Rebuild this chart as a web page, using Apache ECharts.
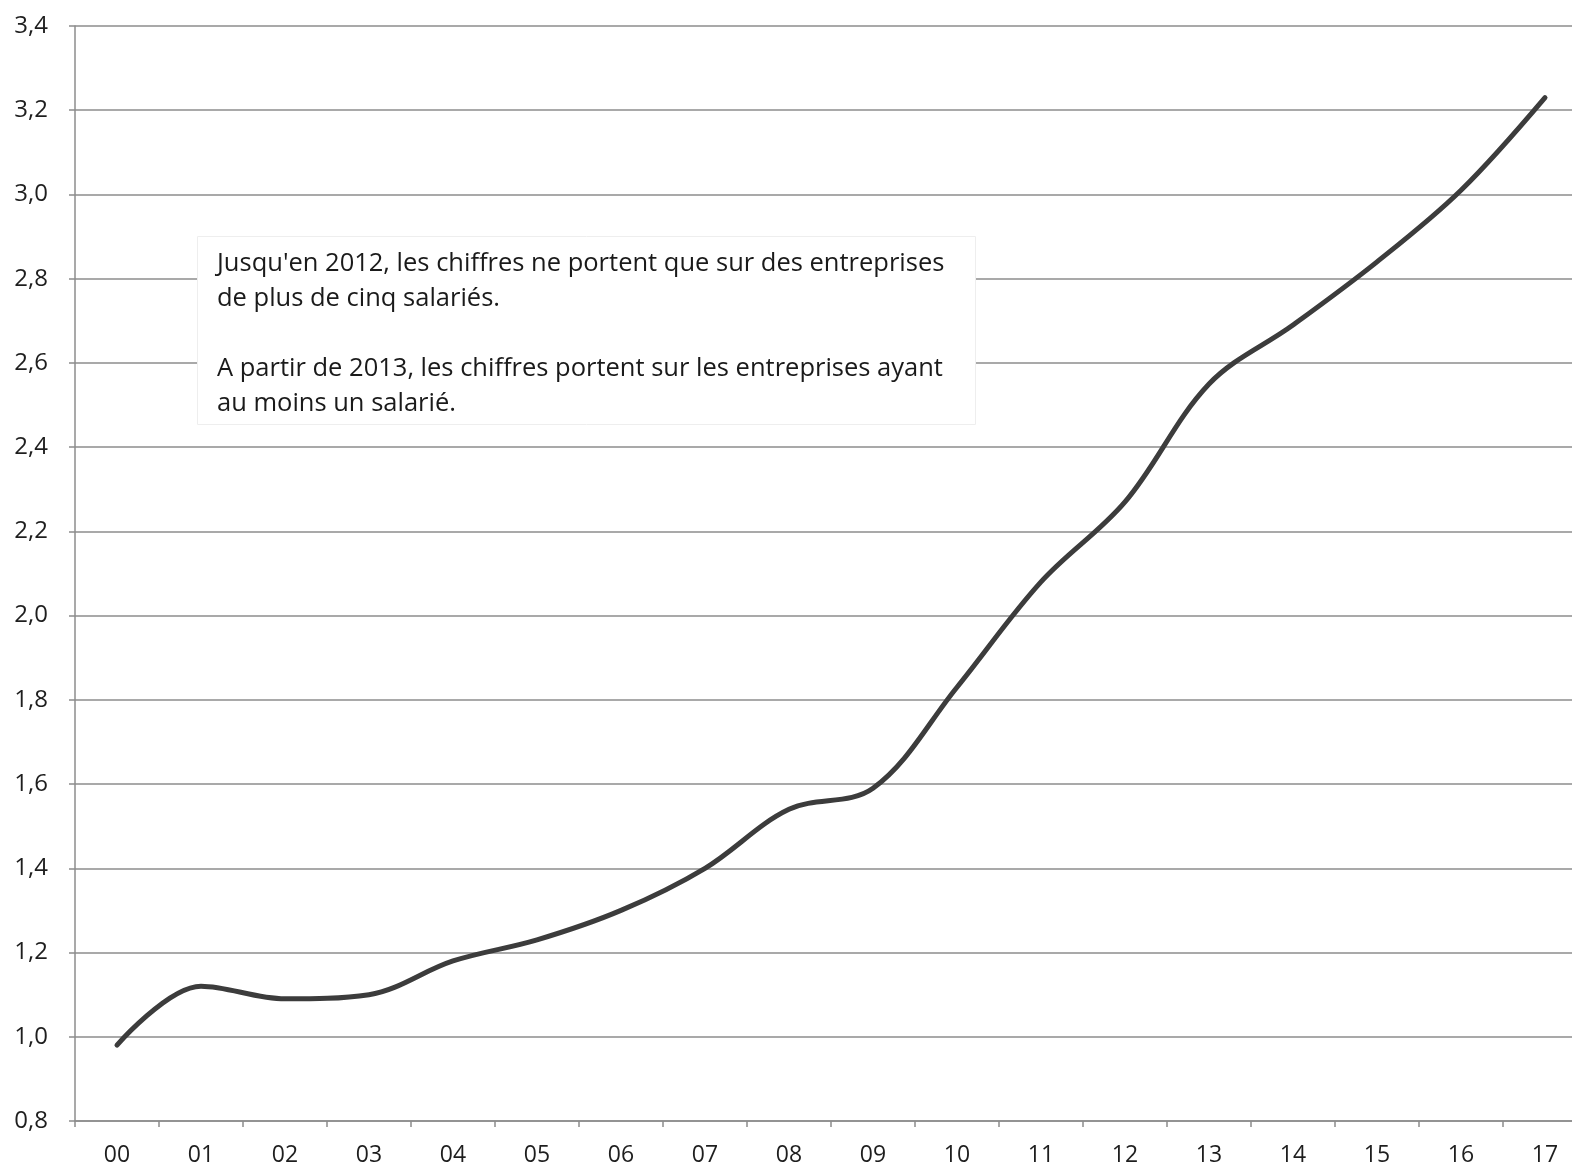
<!DOCTYPE html>
<html>
<head>
<meta charset="utf-8">
<script src="https://cdn.jsdelivr.net/npm/echarts@6/dist/echarts.min.js"></script>
<style>
  html, body { margin: 0; padding: 0; background: #fff; overflow: hidden; }
  /* un peu plus large que la fenêtre : le graphique original déborde à droite */
  #chart { width: 1600px; height: 1168px; }
</style>
</head>
<body>
<div id="chart"></div>
<script>
// années (deux chiffres) et valeurs
const years = ['00', '01', '02', '03', '04', '05', '06', '07', '08', '09',
    '10', '11', '12', '13', '14', '15', '16', '17']
const values = [0.98, 1.12, 1.09, 1.10, 1.18, 1.23, 1.30, 1.40, 1.54, 1.59,
    1.83, 2.08, 2.27, 2.55, 2.69, 2.84, 3.01, 3.23]
const noteLines = [
    "Jusqu'en 2012, les chiffres ne portent que sur des entreprises",
    'de plus de cinq salariés.',
    '',
    'A partir de 2013, les chiffres portent sur les entreprises ayant',
    'au moins un salarié.'
]

const chart = echarts.init(document.getElementById('chart'))
const font = '"Open Sans", "DejaVu Sans", sans-serif'
const gridColor = '#8c8c8c'

const options = {
    animation: false,
    backgroundColor: '#fff',
    grid: {
        left: 75,
        top: 26,
        width: 1512,
        height: 1095
    },
    xAxis: {
        type: 'category',
        data: years,
        boundaryGap: true,
        axisLine: { lineStyle: { color: gridColor, width: 1.5 } },
        axisTick: { show: true, length: 6, lineStyle: { color: gridColor, width: 1.5 } },
        axisLabel: {
            margin: 23,
            fontSize: 23,
            fontFamily: font,
            color: '#1e1e1e'
        }
    },
    yAxis: {
        type: 'value',
        min: 0.8,
        max: 3.4,
        interval: 0.2,
        axisLine: { show: true, lineStyle: { color: gridColor, width: 1.5 } },
        axisTick: { show: true, length: 6, lineStyle: { color: gridColor, width: 1.5 } },
        splitLine: { lineStyle: { color: gridColor, width: 1.5 } },
        axisLabel: {
            margin: 27,
            fontSize: 24,
            fontFamily: font,
            color: '#1e1e1e',
            formatter: v => v.toFixed(1).replace('.', ',')
        }
    },
    series: [{
        type: 'line',
        data: values,
        smooth: 0.35,
        symbol: 'none',
        lineStyle: { color: '#3c3c3c', width: 5, cap: 'round' }
    }],
    graphic: [{
        type: 'rect',
        left: 197,
        top: 236,
        shape: { width: 778, height: 188 },
        style: { fill: '#fff', stroke: '#eeeeee', lineWidth: 1 },
        z: 10
    }, {
        type: 'text',
        left: 217,
        top: 246,
        style: {
            text: noteLines.join('\n'),
            fontSize: 25.5,
            lineHeight: 35,
            fontFamily: font,
            fill: '#1a1a1a'
        },
        z: 11
    }]
}

chart.setOption(options)
</script>
</body>
</html>
